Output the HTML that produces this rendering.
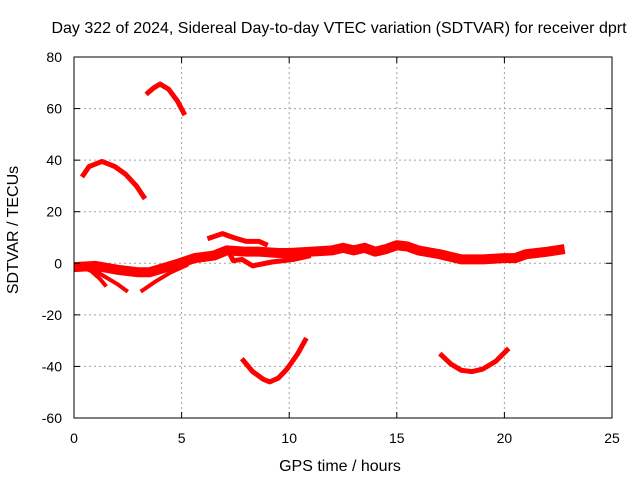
<!DOCTYPE html>
<html><head><meta charset="utf-8"><style>
body{margin:0;background:#fff}
svg{display:block;font-family:"Liberation Sans",sans-serif}
</style></head><body>
<svg id="chart" width="640" height="480" viewBox="0 0 640 480">
<text x="339" y="33" font-size="16" text-anchor="middle">Day 322 of 2024, Sidereal Day-to-day VTEC variation (SDTVAR) for receiver dprt</text>
<text x="340" y="471" font-size="16" text-anchor="middle">GPS time / hours</text>
<text transform="translate(18,230) rotate(-90)" font-size="16" text-anchor="middle">SDTVAR / TECUs</text>
<g id="grid"></g><g id="series"></g><g id="axes"></g>
</svg>
<script>
const xTicks=[0,5,10,15,20,25];
const yTicks=[-60,-40,-20,0,20,40,60,80];
const arcA=[[0.37,33.5],[0.7,37.5],[1.3,39.5],[1.9,37.5],[2.4,34.5],[2.9,30],[3.3,25]];
const arcB=[[3.35,65.5],[3.7,68],[4.0,69.5],[4.4,67.5],[4.8,63],[5.15,57.5]];
const arcC=[[7.8,-37],[8.3,-42],[8.8,-45],[9.1,-46],[9.5,-44.5],[9.9,-41],[10.4,-35],[10.8,-29]];
const arcD=[[17,-35],[17.5,-39],[18,-41.5],[18.5,-42],[19,-41],[19.6,-38],[20.2,-33]];
const bandMain=[[0,-1.5],[1,-1],[2,-2.5],[3,-3.5],[3.5,-3.5],[4.3,-1.5],[4.9,0],[5.6,2],[6.5,3],[7.1,5],[8,4.5],[8.6,4.5],[9.5,4],[10,4],[11,4.5],[12,5],[12.5,6],[13,5],[13.5,6],[14,4.5],[14.5,5.5],[15,7],[15.5,6.5],[16,5],[17,3.5],[18,1.5],[19,1.5],[20,2],[20.5,2],[21,3.5],[22,4.5],[22.8,5.5]];
const branch1=[[0.2,-1],[0.8,-3],[1.2,-6],[1.5,-9]];
const branch2=[[0.4,-1],[1.2,-4],[2,-8],[2.5,-11]];
const branch3=[[3.1,-11],[3.8,-7],[4.5,-3.5],[5.3,-0.5]];
const upper=[[6.2,9.5],[6.9,11.5],[7.4,10],[8,8.5],[8.6,8.5],[9,7]];
const lower=[[7.1,6],[7.4,1],[7.8,1.5],[8.3,-1],[9.2,0.5],[10.2,1.5],[11,3]];
const NS='http://www.w3.org/2000/svg';
const L=74,R=612,T=57,B=418;
function sx(h){return L+(h-0)/(25-0)*(R-L);}
function sy(v){return B-(v+60)/(140)*(B-T);}
function mk(tag,attrs,parent){const e=document.createElementNS(NS,tag);for(const k in attrs)e.setAttribute(k,attrs[k]);parent.appendChild(e);return e;}
const grid=document.getElementById('grid'),axes=document.getElementById('axes'),ser=document.getElementById('series');
xTicks.forEach(t=>{
 if(t>0&&t<25){const g=mk('line',{x1:sx(t),x2:sx(t),y1:T,y2:B,stroke:'#a0a0a0','stroke-dasharray':'2,3'},grid);
 
 }
 const tk=mk('line',{x1:sx(t),x2:sx(t),y1:B,y2:B-6,stroke:'#000'},axes);
 
 
 mk('line',{x1:sx(t),x2:sx(t),y1:T,y2:T+6,stroke:'#000'},axes);
 const tx=mk('text',{x:sx(t),y:B+25,'font-size':14,'text-anchor':'middle'},axes);tx.textContent=t;
 
 
});
yTicks.forEach(t=>{
 if(t>-60&&t<80){const g=mk('line',{x1:L,x2:R,y1:sy(t),y2:sy(t),stroke:'#a0a0a0','stroke-dasharray':'2,3'},grid);
 
 }
 mk('line',{x1:L,x2:L+6,y1:sy(t),y2:sy(t),stroke:'#000'},axes);
 mk('line',{x1:R,x2:R-6,y1:sy(t),y2:sy(t),stroke:'#000'},axes);
 const tx=mk('text',{x:L-12,y:sy(t)+5,'font-size':14,'text-anchor':'end'},axes);tx.textContent=t;
 
 
});
const fr=mk('rect',{x:L,y:T,width:R-L,height:B-T,fill:'none',stroke:'#000'},axes);


function draw(arr,w,name){
 const p=mk('polyline',{points:arr.map(d=>sx(d[0])+','+sy(d[1])).join(' '),fill:'none',stroke:'#f00','stroke-width':w,'stroke-linejoin':'round'},ser);
 
 
}
draw(arcA,5,'series-arc-a');draw(arcB,5,'series-arc-b');draw(arcC,5,'series-arc-c');draw(arcD,5,'series-arc-d');
draw(bandMain,10,'series-main-band');draw(branch1,4,'series-branch-1');draw(branch2,4,'series-branch-2');draw(branch3,4,'series-branch-3');
draw(upper,5,'series-upper');draw(lower,5,'series-lower');
</script>
</body></html>
